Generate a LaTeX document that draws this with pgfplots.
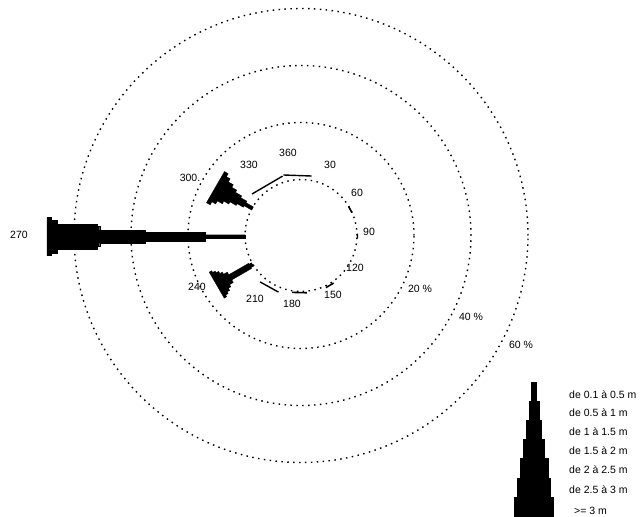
\documentclass[border=0pt]{standalone}
\usepackage{fontspec}
\setmainfont{Liberation Sans}
\usepackage{pgfplots}
\usepackage{pgfplotstable}
\pgfplotsset{compat=1.18}

% wave rose: a = direction (deg), p = cumulative frequency (%), w = half width (class of wave height)
\pgfplotstableread[row sep=\\]{
a p w\\
270 0 1.8\\ 270 14 1.8\\ 270 14 4.5\\ 270 35 4.5\\ 270 35 6.5\\ 270 51 6.5\\
270 51 10\\ 270 52 10\\ 270 52 12.5\\ 270 66 12.5\\ 270 66 16.5\\ 270 68 16.5\\
270 68 19\\ 270 69.5 19\\ 270 69.5 -19\\ 270 68 -19\\ 270 68 -16.5\\ 270 66 -16.5\\
270 66 -12.5\\ 270 52 -12.5\\ 270 52 -10\\ 270 51 -10\\ 270 51 -6.5\\ 270 35 -6.5\\
270 35 -4.5\\ 270 14 -4.5\\ 270 14 -1.8\\ 270 0 -1.8\\
}\tblW
\pgfplotstableread[row sep=\\]{
a p w\\
300 0 1.8\\ 300 3 1.8\\ 300 3 3.5\\ 300 5.5 3.5\\ 300 5.5 5.5\\ 300 8 5.5\\
300 8 8\\ 300 10 8\\ 300 10 11\\ 300 12 11\\ 300 12 14.5\\ 300 13.5 14.5\\
300 13.5 18\\ 300 15 18\\ 300 15 -18\\ 300 13.5 -18\\ 300 13.5 -14.5\\ 300 12 -14.5\\
300 12 -11\\ 300 10 -11\\ 300 10 -8\\ 300 8 -8\\ 300 8 -5.5\\ 300 5.5 -5.5\\
300 5.5 -3.5\\ 300 3 -3.5\\ 300 3 -1.8\\ 300 0 -1.8\\
}\tblWNW
\pgfplotstableread[row sep=\\]{
a p w\\
240 0 2\\ 240 1 2\\ 240 1 3\\ 240 9 3\\ 240 9 6\\ 240 10.5 6\\
240 10.5 8.5\\ 240 11.5 8.5\\ 240 11.5 11\\ 240 12.5 11\\ 240 12.5 13\\ 240 13.5 13\\
240 13.5 15\\ 240 14.5 15\\ 240 14.5 -15\\ 240 13.5 -15\\ 240 13.5 -13\\ 240 12.5 -13\\
240 12.5 -11\\ 240 11.5 -11\\ 240 11.5 -8.5\\ 240 10.5 -8.5\\ 240 10.5 -6\\ 240 9 -6\\
240 9 -3\\ 240 1 -3\\ 240 1 -2\\ 240 0 -2\\
}\tblWSW
% small sectors (drawn as chords)
\pgfplotstableread[row sep=\\]{a p w\\ 311 3.1 0\\ 343 2.5 0\\}\tblNNW
\pgfplotstableread[row sep=\\]{a p w\\ 344 2.8 0\\ 10 1.9 0\\}\tblN
\pgfplotstableread[row sep=\\]{a p w\\ 58 0.1 0\\ 65 0.1 0\\}\tblENE
\pgfplotstableread[row sep=\\]{a p w\\ 87 0.2 0\\ 92 0.2 0\\}\tblE
\pgfplotstableread[row sep=\\]{a p w\\ 145 0.3 0\\ 154 0.3 0\\}\tblSSE
\pgfplotstableread[row sep=\\]{a p w\\ 174 0.2 0\\ 189 0.2 0\\}\tblS
\pgfplotstableread[row sep=\\]{a p w\\ 202 1.4 0\\ 222 1.8 0\\}\tblSSW
% legend bar (pixel coordinates)
\pgfplotstableread[row sep=\\]{
x y\\
531.5 382\\ 536.5 382\\ 536.5 401\\ 539 401\\ 539 420\\ 541.5 420\\ 541.5 439\\
544.5 439\\ 544.5 458\\ 548 458\\ 548 478\\ 550.5 478\\ 550.5 497\\ 553.5 497\\
553.5 516\\ 514.5 516\\ 514.5 497\\ 517.5 497\\ 517.5 478\\ 520 478\\ 520 458\\
523.5 458\\ 523.5 439\\ 526.5 439\\ 526.5 420\\ 529 420\\ 529 401\\ 531.5 401\\
}\tblLeg

\pgfplotsset{
  table/rose/.style={
    x expr={301+(56+2.85*\thisrow{p})*sin(\thisrow{a})+\thisrow{w}*cos(\thisrow{a})},
    y expr={236.5-(56+2.85*\thisrow{p})*cos(\thisrow{a})+\thisrow{w}*sin(\thisrow{a})}
  }
}

\begin{document}
\begin{tikzpicture}
\begin{axis}[
  scale only axis, width=642pt, height=516pt,
  xmin=0, xmax=642, ymin=0, ymax=516, y dir=reverse,
  hide axis, clip=false,
]
\path (rel axis cs:0,0) rectangle (rel axis cs:1,1);
% grid circles (0, 20, 40, 60 %)
\draw[black, line width=1.4pt, dash pattern=on 1.5pt off 4.4pt] (axis cs:301,235.5) circle[radius=56pt];
\draw[black, line width=1.4pt, dash pattern=on 1.5pt off 4.4pt] (axis cs:301,235.5) circle[radius=113pt];
\draw[black, line width=1.4pt, dash pattern=on 1.5pt off 4.4pt] (axis cs:301,235.5) circle[radius=170pt];
\draw[black, line width=1.4pt, dash pattern=on 1.5pt off 4.4pt] (axis cs:301,235.5) circle[radius=227pt];
% bars
\addplot[fill=black, draw=black, line width=0.3pt] table[rose] {\tblW} -- cycle;
\addplot[fill=black, draw=black, line width=0.3pt] table[rose] {\tblWNW} -- cycle;
\addplot[fill=black, draw=black, line width=0.3pt] table[rose] {\tblWSW} -- cycle;
\addplot[black, line width=1.4pt] table[rose] {\tblNNW};
\addplot[black, line width=1.4pt] table[rose] {\tblN};
\addplot[black, line width=1.6pt] table[rose] {\tblENE};
\addplot[black, line width=1.2pt] table[rose] {\tblE};
\addplot[black, line width=1.6pt] table[rose] {\tblSSE};
\addplot[black, line width=1.6pt] table[rose] {\tblS};
\addplot[black, line width=1.4pt] table[rose] {\tblSSW};
% legend bar
\addplot[fill=black, draw=black, line width=0.3pt] table[x=x, y=y] {\tblLeg} -- cycle;

% labels
\begin{scope}[every node/.style={font=\fontsize{10.5}{12}\selectfont, inner sep=0pt}]
\node at (axis cs:288,153) {360};
\node at (axis cs:249,165) {330};
\node at (axis cs:190,178) {300.};
\node at (axis cs:330,165) {30};
\node at (axis cs:357,193) {60};
\node at (axis cs:369,232) {90};
\node at (axis cs:355,268) {120};
\node at (axis cs:333,295) {150};
\node at (axis cs:292,304) {180};
\node at (axis cs:255,299) {210};
\node at (axis cs:197,287) {240};
\node at (axis cs:19,235) {270};
\node at (axis cs:420,289) {20 \%};
\node at (axis cs:471,317) {40 \%};
\node at (axis cs:521,345) {60 \%};
\node[anchor=west] at (axis cs:569,395) {de 0.1 à 0.5 m};
\node[anchor=west] at (axis cs:569,413) {de 0.5 à 1 m};
\node[anchor=west] at (axis cs:569,432) {de 1 à 1.5 m};
\node[anchor=west] at (axis cs:569,451) {de 1.5 à 2 m};
\node[anchor=west] at (axis cs:569,470) {de 2 à 2.5 m};
\node[anchor=west] at (axis cs:569,490) {de 2.5 à 3 m};
\node[anchor=west] at (axis cs:574,511) {\textgreater= 3 m};
\end{scope}
\end{axis}
\end{tikzpicture}
\end{document}
